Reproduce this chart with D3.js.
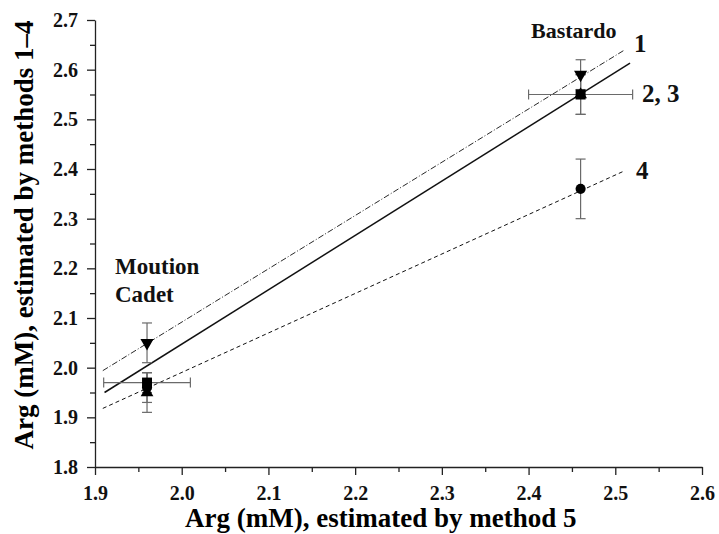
<!DOCTYPE html>
<html>
<head>
<meta charset="utf-8">
<script src="https://cdn.jsdelivr.net/npm/d3@7"></script>
<style>
  body { margin: 0; background: #fff; }
  svg text { font-family: "Liberation Serif", "Times New Roman", serif; font-weight: bold; }
</style>
</head>
<body>
<div id="chart"></div>
<script>
// cultivars (x = method 5)
var cultivars  = ["Moution Cadet", "Bastardo"];
var method5    = [1.96, 2.46];
var method5Err = [0.05, 0.06];
// methods 1-4 (y)
var m1 = [2.05, 2.59], m1Err = [0.04, 0.03];
var m2 = [1.97, 2.55], m2Err = [0.02, 0.04];
var m3 = [1.95, 2.55], m3Err = [0.04, 0.04];
var m4 = [1.96, 2.36], m4Err = [0.03, 0.06];
// regression lines, end points
var fitX = [[1.909, 2.511], [1.911, 2.517], [1.909, 2.509]];
var fitY = [[1.994, 2.640], [1.950, 2.613], [1.918, 2.395]];
var xTicks = [1.9, 2.0, 2.1, 2.2, 2.3, 2.4, 2.5, 2.6];
var yTicks = [1.8, 1.9, 2.0, 2.1, 2.2, 2.3, 2.4, 2.5, 2.6, 2.7];

var W = 719, H = 534;
var margin = {top: 20, right: 17, bottom: 67, left: 95};

var svg = d3.select("#chart").append("svg")
  .attr("width", W).attr("height", H);

var x = d3.scaleLinear().domain([1.9, 2.6]).range([margin.left, W - margin.right]);
var y = d3.scaleLinear().domain([1.8, 2.7]).range([H - margin.bottom, margin.top]);

// axes
var xMinor = d3.range(1.95, 2.6, 0.1);
var yMinor = d3.range(1.85, 2.7, 0.1);

svg.append("g")
  .attr("transform", "translate(0," + y(1.8) + ")")
  .call(d3.axisBottom(x).tickValues(xMinor).tickSize(5).tickFormat(""))
  .call(g => g.select(".domain").remove());
var gx = svg.append("g")
  .attr("transform", "translate(0," + y(1.8) + ")")
  .call(d3.axisBottom(x).tickValues(xTicks).tickSize(8).tickSizeOuter(0).tickPadding(11)
        .tickFormat(d3.format(".1f")));
gx.selectAll("text").style("font-size", "20px").attr("fill", "#111");

svg.append("g")
  .attr("transform", "translate(" + x(1.9) + ",0)")
  .call(d3.axisLeft(y).tickValues(yMinor).tickSize(5).tickFormat(""))
  .call(g => g.select(".domain").remove());
var gy = svg.append("g")
  .attr("transform", "translate(" + x(1.9) + ",0)")
  .call(d3.axisLeft(y).tickValues(yTicks).tickSize(8).tickSizeOuter(0).tickPadding(9)
        .tickFormat(d3.format(".1f")));
gy.selectAll("text").style("font-size", "20px").attr("fill", "#111");

svg.selectAll(".domain, .tick line").attr("stroke", "#222").attr("stroke-width", 1.3);

// titles
svg.append("text")
  .attr("x", 185).attr("y", 527)
  .style("font-size", "27px")
  .text("Arg (mM), estimated by method 5");
svg.append("text")
  .attr("transform", "translate(33," + 235 + ") rotate(-90)")
  .attr("text-anchor", "middle")
  .style("font-size", "27px")
  .text("Arg (mM), estimated by methods 1\u20134");

// regression lines
var dashes = ["6,2,1,2", null, "4,3"];
var widths = [0.9, 1.5, 1];
fitX.forEach(function(fx, i) {
  svg.append("line")
    .attr("x1", x(fx[0])).attr("y1", y(fitY[i][0]))
    .attr("x2", x(fx[1])).attr("y2", y(fitY[i][1]))
    .attr("stroke", "#111")
    .attr("stroke-width", widths[i])
    .attr("stroke-dasharray", dashes[i]);
});

// error bars
var errCol = "#6a6a6a";
function vErr(cx, v, e) {
  var g = svg.append("g").attr("stroke", errCol).attr("stroke-width", 1.2);
  g.append("line").attr("x1", x(cx)).attr("x2", x(cx)).attr("y1", y(v - e)).attr("y2", y(v + e));
  [v - e, v + e].forEach(function(t) {
    g.append("line").attr("x1", x(cx) - 5).attr("x2", x(cx) + 5).attr("y1", y(t)).attr("y2", y(t));
  });
}
function hErr(cx, v, e) {
  var g = svg.append("g").attr("stroke", errCol).attr("stroke-width", 1.2);
  g.append("line").attr("x1", x(cx - e)).attr("x2", x(cx + e)).attr("y1", y(v)).attr("y2", y(v));
  [cx - e, cx + e].forEach(function(t) {
    g.append("line").attr("x1", x(t)).attr("x2", x(t)).attr("y1", y(v) - 5).attr("y2", y(v) + 5);
  });
}

method5.forEach(function(cx, i) {
  vErr(cx, m4[i], m4Err[i]);
  vErr(cx, m3[i], m3Err[i]);
  vErr(cx, m2[i], m2Err[i]);
  vErr(cx, m1[i], m1Err[i]);
  hErr(cx, m2[i], method5Err[i]);
});

// markers
var sym = [
  {vals: m4, type: d3.symbolCircle, size: 80, rot: 0},
  {vals: m3, type: d3.symbolTriangle, size: 70, rot: 0},
  {vals: m2, type: d3.symbolSquare, size: 100, rot: 0},
  {vals: m1, type: d3.symbolTriangle, size: 75, rot: 180}
];
sym.forEach(function(s) {
  svg.selectAll(null).data(s.vals).enter().append("path")
    .attr("d", d3.symbol().type(s.type).size(s.size))
    .attr("transform", function(d, i) {
      return "translate(" + x(method5[i]) + "," + y(d) + ") rotate(" + s.rot + ")";
    })
    .attr("fill", "#000");
});

// annotations
var notes = [
  {t: "Bastardo", x: 531, y: 38, s: 22},
  {t: "Moution", x: 115, y: 274, s: 23},
  {t: "Cadet", x: 115, y: 302, s: 23},
  {t: "1", x: 634, y: 52, s: 25},
  {t: "2, 3", x: 642, y: 102, s: 25},
  {t: "4", x: 636, y: 179, s: 25}
];
svg.selectAll(null).data(notes).enter().append("text")
  .attr("x", d => d.x).attr("y", d => d.y)
  .style("font-size", d => d.s + "px")
  .attr("fill", "#111")
  .text(d => d.t);
</script>
</body>
</html>
